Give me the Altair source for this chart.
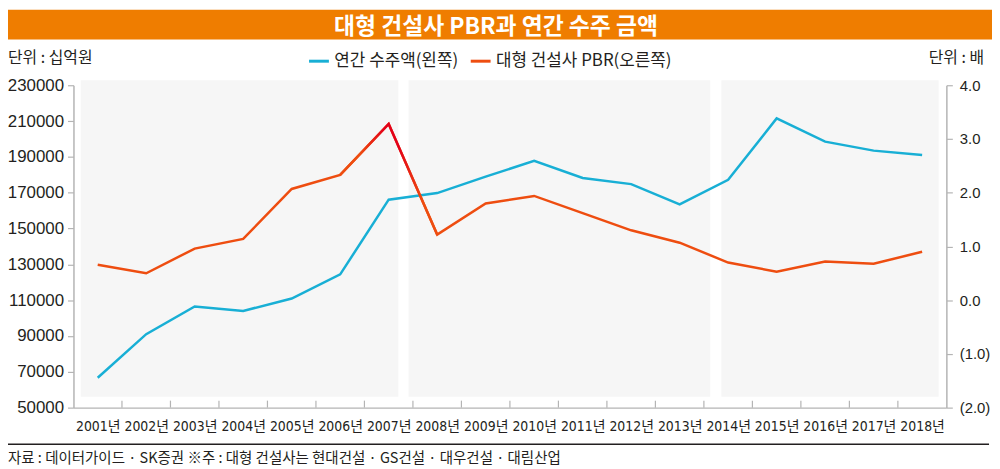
import altair as alt
import pandas as pd

# ---- data ----
years = list(range(2001, 2019))
orders = [66700, 91000, 106500, 104000, 110900, 124400, 166100, 169800, 179000,
          187800, 178200, 174800, 163500, 177200, 211500, 198500, 193500, 191000]
pbr = [0.66, 0.50, 0.96, 1.14, 2.07, 2.33, 3.28, 1.22, 1.80,
       1.94, 1.62, 1.30, 1.07, 0.70, 0.53, 0.72, 0.68, 0.90]

shade_start = [2000.65, 2007.41, 2013.86]
shade_end = [2007.20, 2013.63, 2018.34]
boundaries = [y + 0.5 for y in range(2001, 2018)]

s_orders = "연간 수주액(왼쪽)"
s_pbr = "대형 건설사 PBR(오른쪽)"
left_ticks = list(range(50000, 230001, 20000))
right_ticks = [-2, -1, 0, 1, 2, 3, 4]

BLUE = "#18afd5"
ORANGE = "#ee4d10"
RED = "#e3001b"
TXT = "#231f20"
AX = "#b4b4b4"
KFONT = "Noto Sans CJK KR"
NARROW = "Liberation Sans Narrow, DejaVu Sans Condensed, Roboto Condensed, Liberation Sans, Noto Sans CJK KR"

df_o = pd.DataFrame({"year": years, "value": orders, "series": s_orders})
df_p = pd.DataFrame({"year": years, "value": pbr, "series": s_pbr})
df_peak = df_p[(df_p.year >= 2006) & (df_p.year <= 2008)]
df_shade = pd.DataFrame({"x0": shade_start, "x1": shade_end,
                         "top": [232800] * 3, "bot": [56100] * 3})
df_b = pd.DataFrame({"x": boundaries, "y0": [50000] * len(boundaries),
                     "y1": [53900] * len(boundaries)})

xscale = alt.Scale(domain=[2000.5, 2018.5], nice=False, zero=False)
xaxis = alt.Axis(values=years, labelExpr="format(datum.value,'d') + '년'",
                 ticks=False, labelPadding=12, labelFontSize=14,
                 labelFont=NARROW, labelColor=TXT,
                 labelFlush=False, labelOverlap=False, domainColor=AX,
                 domainWidth=1.5, grid=False, title=None)
lscale = alt.Scale(domain=[50000, 230000], nice=False, zero=False)
laxis = alt.Axis(values=left_ticks, format="d", tickSize=6, tickColor=AX,
                 tickWidth=1.2, labelPadding=4, labelFontSize=17,
                 labelFont="Liberation Sans", labelColor=TXT, domainColor=AX,
                 domainWidth=1.5, grid=False, title=None, labelOverlap=False,
                 labelFlush=False, labelBound=False)
rscale = alt.Scale(domain=[-2, 4], nice=False, zero=False)
raxis = alt.Axis(orient="right", values=right_ticks,
                 labelExpr="datum.value < 0 ? '(' + format(-datum.value,'.1f') + ')' : format(datum.value,'.1f')",
                 tickSize=6, tickColor=AX, tickWidth=1.2, labelPadding=7,
                 labelFontSize=15, labelFont="Liberation Sans", labelColor=TXT,
                 domainColor=AX, domainWidth=1.5, grid=False, title=None,
                 labelOverlap=False, labelFlush=False, labelBound=False)

color = alt.Color("series:N",
                  scale=alt.Scale(domain=[s_orders, s_pbr], range=[BLUE, ORANGE]),
                  legend=alt.Legend(title=None, orient="none", direction="horizontal",
                                    legendX=236, legendY=-36, symbolType="stroke",
                                    symbolSize=400, symbolStrokeWidth=3,
                                    labelFontSize=17, labelFont=KFONT,
                                    labelColor=TXT, labelOffset=4,
                                    columnPadding=6, labelLimit=300))

X = lambda f: alt.X(f, scale=xscale, axis=xaxis)
YL = lambda f: alt.Y(f, scale=lscale, axis=laxis)
YR = lambda f: alt.Y(f, scale=rscale, axis=raxis)

shade = alt.Chart(df_shade).mark_rect(color="#f6f6f6").encode(
    x=X("x0:Q"), x2="x1:Q", y=YL("top:Q"), y2="bot:Q")
xticks = alt.Chart(df_b).mark_rule(color=AX, strokeWidth=1.2).encode(
    x=X("x:Q"), y=YL("y0:Q"), y2="y1:Q")
blue = alt.Chart(df_o).mark_line(strokeWidth=2.5).encode(
    x=X("year:Q"), y=YL("value:Q"), color=color)
left_layer = alt.layer(shade, xticks, blue)

red = alt.Chart(df_p).mark_line(strokeWidth=2.5).encode(
    x=X("year:Q"), y=YR("value:Q"), color=color)
peak = alt.Chart(df_peak).mark_line(
    strokeWidth=2.5,
    stroke=alt.Gradient(gradient="linear", x1=0, x2=1, y1=0, y2=0,
                        stops=[alt.GradientStop(offset=0, color=ORANGE),
                               alt.GradientStop(offset=0.2, color=ORANGE),
                               alt.GradientStop(offset=0.45, color=RED),
                               alt.GradientStop(offset=0.6, color=RED),
                               alt.GradientStop(offset=0.85, color=ORANGE),
                               alt.GradientStop(offset=1, color=ORANGE)])
).encode(x=X("year:Q"), y=YR("value:Q"))
right_layer = alt.layer(red, peak)

one = pd.DataFrame({"a": [0]})
bar = alt.Chart(one).mark_rect(color="#ef7d00").encode(
    x=alt.value(-66), x2=alt.value(926), y=alt.value(-76), y2=alt.value(-46))
title = alt.Chart(one).mark_text(text="대형 건설사 PBR과 연간 수주 금액", font=KFONT,
                                 fontSize=23, fontWeight="bold", color="white",
                                 align="center", baseline="middle").encode(
    x=alt.value(426), y=alt.value(-59))
unit_l = alt.Chart(one).mark_text(text="단위 : 십억원", font=KFONT, fontSize=16,
                                  color=TXT, align="left", baseline="middle").encode(
    x=alt.value(-66), y=alt.value(-27))
unit_r = alt.Chart(one).mark_text(text="단위 : 배", font=KFONT, fontSize=16,
                                  color=TXT, align="right", baseline="middle").encode(
    x=alt.value(918), y=alt.value(-27))
foot_line = alt.Chart(one).mark_rule(color=TXT, strokeWidth=1.5).encode(
    x=alt.value(-66), x2=alt.value(923), y=alt.value(362))
foot = alt.Chart(one).mark_text(
    text="자료 : 데이터가이드 · SK증권 ※주 : 대형 건설사는 현대건설 · GS건설 · 대우건설 · 대림산업",
    font=KFONT, fontSize=14.6, color=TXT, align="left", baseline="middle").encode(
    x=alt.value(-66), y=alt.value(377))
deco = alt.layer(bar, title, unit_l, unit_r, foot_line, foot)

chart = alt.layer(left_layer, right_layer, deco).resolve_scale(
    y="independent"
).properties(
    width=880, height=325,
    autosize=alt.AutoSizeParams(type="none"),
    padding={"left": 66, "top": 76, "right": 46, "bottom": 60},
    background="white",
).configure_view(stroke=None)

chart.save("out.html", embed_options={"renderer": "svg", "actions": False})
